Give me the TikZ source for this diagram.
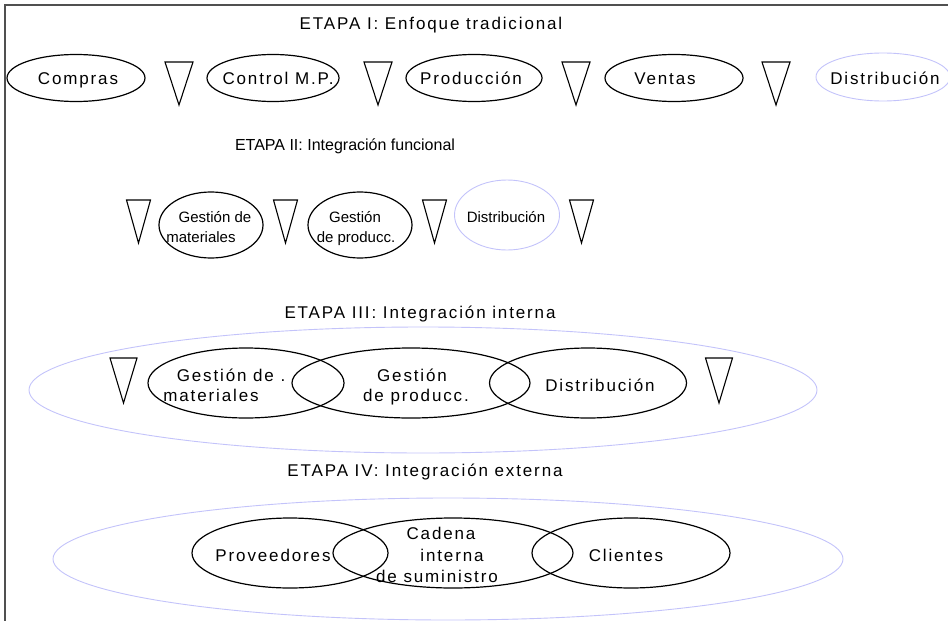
\documentclass[tikz,border=0pt]{standalone}
\usepackage{fontspec}
\setmainfont{Liberation Sans}
\newfontfamily\wfont[LetterSpace=11]{Liberation Sans}
\usetikzlibrary{shapes.geometric}
\definecolor{lblue}{RGB}{195,195,250}
\definecolor{frame}{RGB}{80,80,80}
\begin{document}
\begin{tikzpicture}[x=1pt,y=-1pt,
  ov/.style={draw=black,line width=1.2pt,ellipse,inner sep=0pt},
  bov/.style={draw=lblue,line width=0.9pt,ellipse,inner sep=0pt},
  wt/.style={font={\wfont\fontsize{17}{20}\selectfont},inner sep=0pt,text height=12pt,text depth=0pt},
  nt/.style={font={\fontsize{15}{18}\selectfont},inner sep=0pt,text height=11pt,text depth=0pt},
  tri/.style={draw=black,line width=1.1pt,line join=miter}]
\useasboundingbox (0,0) rectangle (948,621);
% frame
\draw[frame,line width=2pt] (5,621) -- (5,5) -- (948,5);

% ---------- ETAPA I ----------
\node[wt] (t1) at (431,23) {ETAPA I: Enfoque tradicional};
\node[ov,minimum width=138pt,minimum height=47pt] (c1) at (76,78) {};
\node[ov,minimum width=132pt,minimum height=47pt] (c2) at (273,78) {};
\node[ov,minimum width=136pt,minimum height=47pt] (c3) at (474,78) {};
\node[ov,minimum width=138pt,minimum height=47pt] (c4) at (674,78) {};
\node[bov,minimum width=134pt,minimum height=48pt] (c5) at (883,77) {};
\node[wt] (l1) at (78,78) {Compras};
\node[wt] (l2) at (278,78) {Control M.P.};
\node[wt] (l3) at (471,78) {Producción};
\node[wt] (l4) at (665,78) {Ventas};
\node[wt] (l5) at (885,78) {Distribución};
\foreach \x in {179,378,576,776}
  \draw[tri] (\x-14,62) -- (\x+14,62) -- (\x,105) -- cycle;

% ---------- ETAPA II ----------
\node[font={\fontsize{16}{19}\selectfont},inner sep=0pt,text height=11.5pt,text depth=0pt] (t2) at (345,145) {ETAPA II: Integración funcional};
\node[ov,minimum width=104pt,minimum height=66pt] (d1) at (211,225) {};
\node[ov,minimum width=104pt,minimum height=66pt] (d2) at (360,225) {};
\node[bov,minimum width=105pt,minimum height=70pt] (d3) at (507,215) {};
\node[nt] (m1a) at (215,217) {Gestión de};
\node[nt] (m1b) at (201,237) {materiales};
\node[nt] (m2a) at (355,217) {Gestión};
\node[nt] (m2b) at (356,237) {de producc.};
\node[nt] (m3) at (506,217) {Distribución};
\foreach \x in {138.5,285.5,434.5,581.5}
  \draw[tri] (\x-12,200) -- (\x+12,200) -- (\x,243) -- cycle;

% ---------- ETAPA III ----------
\node[wt] (t3) at (420,312) {ETAPA III: Integración interna};
\node[bov,minimum width=788pt,minimum height=126pt] (b3) at (423,390) {};
\node[ov,minimum width=196pt,minimum height=70pt] (e1) at (246,383) {};
\node[ov,minimum width=238pt,minimum height=70pt] (e2) at (411,383) {};
\node[ov,minimum width=197pt,minimum height=70pt] (e3) at (588,383) {};
\node[wt] (n1a) at (231,375) {Gestión de .};
\node[wt] (n1b) at (211,395) {materiales};
\node[wt] (n2a) at (412,375) {Gestión};
\node[wt] (n2b) at (416,395) {de producc.};
\node[wt] (n3) at (600,385) {Distribución};
\foreach \x in {123.5,719}
  \draw[tri] (\x-13.5,358) -- (\x+13.5,358) -- (\x,403) -- cycle;

% ---------- ETAPA IV ----------
\node[wt] (t4) at (425,470) {ETAPA IV: Integración externa};
\node[bov,minimum width=790pt,minimum height=122pt] (b4) at (448,559) {};
\node[ov,minimum width=196pt,minimum height=70pt] (f1) at (290,553) {};
\node[ov,minimum width=240pt,minimum height=70pt] (f2) at (453,553) {};
\node[ov,minimum width=198pt,minimum height=70pt] (f3) at (631,553) {};
\node[wt] (p1) at (273,555) {Proveedores};
\node[wt] (p2a) at (441,533) {Cadena};
\node[wt] (p2b) at (452,555) {interna};
\node[wt] (p2c) at (437,576) {de suministro};
\node[wt] (p3) at (626,555) {Clientes};
\end{tikzpicture}
\end{document}
